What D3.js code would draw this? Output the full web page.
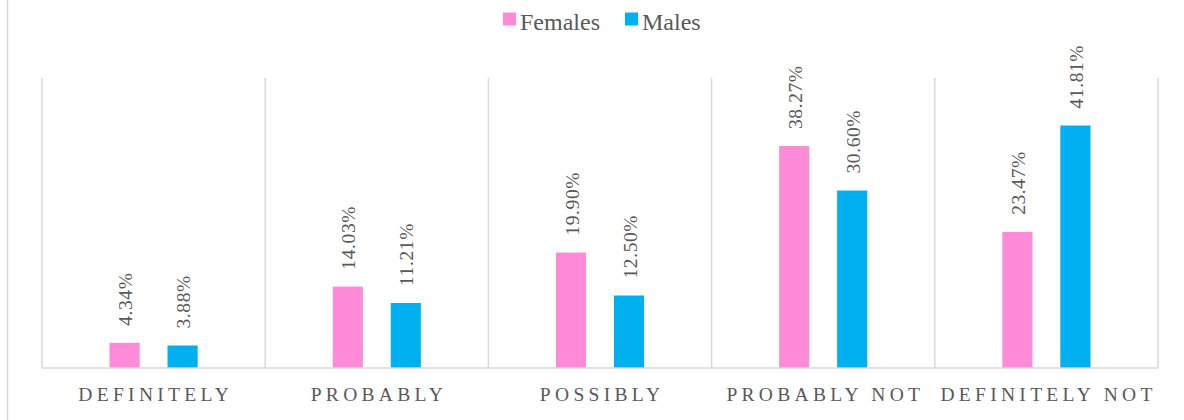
<!DOCTYPE html>
<html>
<head>
<meta charset="utf-8">
<script src="https://cdn.jsdelivr.net/npm/d3@7"></script>
<style>
  html, body { margin: 0; padding: 0; background: #fff; }
  svg { display: block; }
  text { font-family: "Liberation Serif", "Times New Roman", serif; fill: #595959; }
</style>
</head>
<body>
<svg id="chart" width="1184" height="420"></svg>
<script>
// Survey answers by gender (percent of respondents)
const categories = ["DEFINITELY", "PROBABLY", "POSSIBLY", "PROBABLY NOT", "DEFINITELY NOT"];
const seriesNames = ["Females", "Males"];
const females = [4.34, 14.03, 19.90, 38.27, 23.47];
const males = [3.88, 11.21, 12.50, 30.60, 41.81];
const seriesColors = ["#FF8AD8", "#00B0F0"];

const seriesValues = [females, males];

const svg = d3.select("#chart");
const W = 1184, H = 420;
const plot = { left: 42, right: 1158, top: 78, bottom: 368 };
const grid = "#d9d9d9";

// Outer chart border (left edge)
svg.append("line")
  .attr("x1", 7.5).attr("x2", 7.5).attr("y1", 0).attr("y2", H)
  .attr("stroke", grid).attr("stroke-width", 1.5);

const x = d3.scaleBand().domain(categories).range([plot.left, plot.right]).padding(0);
const y = d3.scaleLinear().domain([0, 50]).range([plot.bottom, plot.top]);
// Offset of each series' bar centre within a category
const xs = d3.scalePoint().domain(seriesNames).range([-29, 29]);
const barW = x.bandwidth() * 0.135;

// Category separators
const edges = categories.map(c => x(c)).concat([plot.right]);
svg.append("g").selectAll("line").data(edges).join("line")
  .attr("x1", d => d).attr("x2", d => d)
  .attr("y1", plot.top).attr("y2", plot.bottom)
  .attr("stroke", grid).attr("stroke-width", 1.5);

// Bars
const rows = [];
seriesNames.forEach((s, si) => {
  categories.forEach((c, ci) => rows.push({ s, si, c, v: seriesValues[si][ci] }));
});

svg.append("g").selectAll("rect").data(rows).join("rect")
  .attr("x", d => x(d.c) + x.bandwidth() / 2 + xs(d.s) - barW / 2)
  .attr("width", barW)
  .attr("y", d => y(d.v))
  .attr("height", d => y(0) - y(d.v))
  .attr("fill", d => seriesColors[d.si]);

// Baseline
svg.append("line")
  .attr("x1", plot.left).attr("x2", plot.right)
  .attr("y1", plot.bottom).attr("y2", plot.bottom)
  .attr("stroke", grid).attr("stroke-width", 1.5);

// Rotated value labels above each bar
svg.append("g").selectAll("text").data(rows).join("text")
  .attr("transform", d => {
    const cx = x(d.c) + x.bandwidth() / 2 + xs(d.s) + 7.5;
    const cy = y(d.v) - 17;
    return `translate(${cx},${cy}) rotate(-90)`;
  })
  .attr("font-size", 19.5)
  .attr("letter-spacing", 0.6)
  .attr("fill", "#666666")
  .text(d => d.v.toFixed(2) + "%");

// Category axis labels
const ls = 4.3;
svg.append("g").selectAll("text").data(categories).join("text")
  .attr("x", d => x(d) + x.bandwidth() / 2 + ls / 2)
  .attr("y", 401)
  .attr("text-anchor", "middle")
  .attr("font-size", 19.5)
  .attr("letter-spacing", ls)
  .text(d => d);

// Legend
const legend = svg.append("g");
const legendX = [503, 625];
seriesNames.forEach((s, i) => {
  legend.append("rect")
    .attr("x", legendX[i]).attr("y", 12.5)
    .attr("width", 13).attr("height", 13)
    .attr("fill", seriesColors[i]);
  legend.append("text")
    .attr("x", legendX[i] + 17).attr("y", 29.5)
    .attr("font-size", 24)
    .text(s);
});
</script>
</body>
</html>
